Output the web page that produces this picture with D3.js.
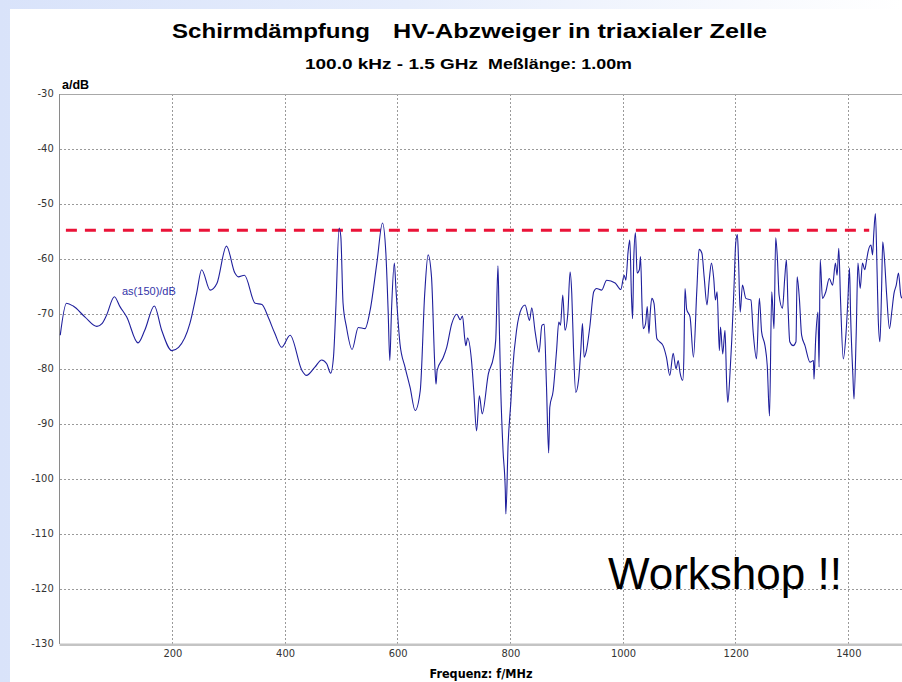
<!DOCTYPE html>
<html>
<head>
<meta charset="utf-8">
<script src="https://cdn.jsdelivr.net/npm/d3@7"></script>
<style>
  html, body { margin: 0; padding: 0; }
  body {
    width: 902px; height: 682px; overflow: hidden;
    background: linear-gradient(to right, #d9e3fa 0%, #e6edfc 45%, #ffffff 100%);
  }
  svg { display: block; }
  .narrow { font-family: "DejaVu Sans", sans-serif; font-stretch: condensed; }
</style>
</head>
<body>
<div id="chart"></div>
<script>
// Schirmdämpfung as(150) over frequency
var freq = [1, 12, 24, 45, 66, 75, 83, 97, 107, 119, 139, 151, 168, 181, 199, 211, 231, 243, 252, 267,
  279, 296, 311, 317, 328, 347, 359, 370, 382, 394, 409, 430, 438, 453, 465, 474, 481, 486, 490, 496,
  499, 503, 509, 519, 530, 542, 551, 563, 573, 579, 583, 586, 589, 594, 597, 604, 613, 622, 631, 640,
  648, 654, 660, 666, 668, 670, 681, 687, 696, 705, 711, 715, 719, 721, 724, 731, 735, 740, 745, 750,
  761, 770, 774, 778, 780, 783, 787, 791, 792, 796, 801, 804, 811, 820, 826, 834, 838, 844, 851, 856,
  860, 864, 868, 870, 876, 882, 886, 889, 893, 897, 902, 906, 909, 912, 916, 921, 925, 928, 931, 935,
  941, 948, 953, 962, 971, 986, 996, 1002, 1005, 1009, 1012, 1015, 1017, 1019, 1022, 1025, 1029, 1031, 1034, 1036,
  1040, 1043, 1046, 1048, 1051, 1055, 1060, 1064, 1071, 1077, 1083, 1089, 1094, 1098, 1101, 1106, 1108, 1110, 1113, 1119,
  1125, 1131, 1135, 1140, 1144, 1149, 1153, 1157, 1161, 1164, 1167, 1171, 1173, 1177, 1181, 1184, 1186, 1190, 1193, 1197,
  1200, 1203, 1205, 1208, 1212, 1218, 1227, 1231, 1237, 1242, 1246, 1252, 1256, 1260, 1264, 1268, 1271, 1274, 1277, 1283,
  1287, 1290, 1293, 1296, 1302, 1307, 1309, 1313, 1317, 1323, 1332, 1338, 1339, 1342, 1346, 1348, 1350, 1354, 1360, 1366,
  1372, 1377, 1380, 1383, 1386, 1391, 1396, 1399, 1402, 1404, 1408, 1410, 1414, 1417, 1421, 1425, 1429, 1432, 1435, 1440,
  1443, 1445, 1448, 1451, 1453, 1456, 1459, 1461, 1464, 1468, 1473, 1477, 1481, 1485, 1489, 1493, 1495];

var atten = [-73.8, -68.0, -68.5, -70.5, -72.2, -71.7, -70.2, -66.8, -68.6, -70.5, -75.2, -72.9, -68.5, -72.9, -76.6, -76.0, -71.7, -66.2, -61.9, -65.6,
  -64.4, -57.6, -62.5, -63.2, -62.9, -68.0, -68.2, -70.5, -73.5, -76.0, -73.8, -80.2, -81.1, -79.6, -78.3, -79.0, -80.7, -77.8, -69.3, -54.3,
  -55.8, -68.0, -72.3, -76.4, -72.4, -72.6, -69.3, -60.7, -53.4, -58.9, -69.3, -78.4, -69.3, -60.7, -65.6, -75.3, -79.6, -83.3, -87.5, -83.9,
  -66.2, -59.2, -63.2, -79.6, -82.7, -80.2, -77.8, -76.0, -71.7, -70.0, -71.0, -70.3, -74.4, -75.7, -74.3, -78.4, -83.9, -91.2, -84.8, -88.1,
  -80.8, -77.8, -74.7, -61.2, -70.5, -83.9, -94.8, -102.1, -106.3, -93.6, -85.7, -80.2, -72.9, -68.9, -68.3, -71.1, -68.8, -73.2, -76.9, -72.0,
  -71.8, -82.7, -95.2, -86.9, -83.9, -76.6, -71.4, -72.0, -66.5, -72.9, -69.9, -62.3, -66.2, -76.0, -84.2, -82.0, -76.6, -71.7, -77.8, -76.6,
  -72.3, -65.9, -65.3, -65.6, -63.8, -64.3, -65.5, -62.9, -63.8, -58.6, -56.5, -66.8, -70.8, -60.1, -55.2, -62.5, -61.9, -59.5, -69.3, -72.6,
  -71.7, -68.6, -73.5, -70.2, -67.1, -68.0, -74.4, -74.9, -75.7, -77.8, -81.1, -77.1, -79.9, -78.4, -80.5, -82.0, -77.8, -65.3, -69.1, -70.5,
  -77.8, -65.6, -58.2, -58.9, -63.2, -68.3, -63.8, -60.7, -63.5, -67.4, -65.9, -76.6, -72.3, -77.2, -72.9, -82.7, -86.0, -80.5, -74.7, -65.0,
  -57.1, -55.5, -60.1, -69.6, -64.7, -67.1, -67.4, -73.2, -78.1, -67.1, -73.2, -75.7, -79.3, -88.5, -65.9, -72.6, -56.1, -59.8, -66.5, -68.9,
  -63.5, -60.1, -68.9, -75.0, -75.7, -75.0, -63.2, -67.1, -73.8, -75.7, -78.7, -78.4, -81.8, -74.4, -69.6, -79.6, -60.1, -67.1, -65.9, -63.5,
  -64.7, -60.7, -62.9, -58.0, -67.1, -78.1, -73.2, -67.7, -61.6, -70.2, -81.1, -85.4, -73.2, -60.7, -65.3, -60.7, -61.9, -60.4, -58.6, -57.4,
  -59.2, -55.5, -51.7, -62.3, -70.8, -75.0, -65.3, -56.8, -59.8, -66.5, -72.6, -69.6, -66.2, -64.7, -62.5, -66.5, -67.1];

// limit line (red dashed)
var limitFreq = [11, 1437];
var limitValue = -54.7;

var xTicks = [200, 400, 600, 800, 1000, 1200, 1400];
var yTicks = [-130, -120, -110, -100, -90, -80, -70, -60, -50, -40, -30];

var width = 902, height = 682;
var plot = { left: 59.7, right: 904.7, top: 94.3, bottom: 644.3 };

var x = d3.scaleLinear().domain([0, 1500]).range([plot.left, plot.right]);
var y = d3.scaleLinear().domain([-130, -30]).range([plot.bottom, plot.top]);
var plain = function(d) { return String(d); };

var svg = d3.select("#chart").append("svg")
    .attr("width", width)
    .attr("height", height);

// white sheet
svg.append("rect")
    .attr("x", 10).attr("y", 9)
    .attr("width", width - 10).attr("height", height - 9)
    .style("fill", "#fff");

// Titles (the original font runs wide, so stretch to the measured widths)
var titleFont = "'Liberation Sans', Arial, sans-serif";
function title(str, x0, y0, len, size) {
  svg.append("text")
      .attr("x", x0).attr("y", y0)
      .attr("textLength", len).attr("lengthAdjust", "spacingAndGlyphs")
      .style("font-family", titleFont).style("font-weight", "bold").style("font-size", size)
      .text(str);
}
title("Schirmdämpfung", 172, 38, 198, "20.5px");
title("HV-Abzweiger in triaxialer Zelle", 393, 38, 374, "20.5px");
title("100.0 kHz - 1.5 GHz", 305, 69, 173, "15px");
title("Meßlänge: 1.00m", 488, 69, 144, "15px");

// Grid
svg.append("g")
    .selectAll("line")
    .data(xTicks)
    .enter().append("line")
    .attr("x1", function(d) { return x(d); })
    .attr("x2", function(d) { return x(d); })
    .attr("y1", plot.top).attr("y2", plot.bottom)
    .style("stroke", "#9a9a9a")
    .style("stroke-dasharray", "2,2")
    .attr("shape-rendering", "crispEdges");

svg.append("g")
    .selectAll("line")
    .data(yTicks.filter(function(d) { return d > -130 && d < -30; }))
    .enter().append("line")
    .attr("x1", plot.left).attr("x2", plot.right)
    .attr("y1", function(d) { return y(d); })
    .attr("y2", function(d) { return y(d); })
    .style("stroke", "#9a9a9a")
    .style("stroke-dasharray", "2,2")
    .attr("shape-rendering", "crispEdges");

// frame lines
svg.append("line")
    .attr("x1", plot.left).attr("x2", plot.right)
    .attr("y1", y(-30)).attr("y2", y(-30))
    .style("stroke", "#a8a8a8").attr("shape-rendering", "crispEdges");
svg.append("line")
    .attr("x1", plot.left).attr("x2", plot.left)
    .attr("y1", y(-30)).attr("y2", y(-130))
    .style("stroke", "#8a8a8a").attr("shape-rendering", "crispEdges");
svg.append("line")
    .attr("x1", plot.left).attr("x2", plot.right)
    .attr("y1", y(-130) + 0.5).attr("y2", y(-130) + 0.5)
    .style("stroke", "#c4c4c4").style("stroke-width", 2.5);

// Axes labels
var yAxis = svg.append("g")
    .attr("class", "narrow")
    .attr("transform", "translate(" + plot.left + ",0)")
    .call(d3.axisLeft(y).tickValues(yTicks).tickFormat(plain).tickSize(0).tickPadding(6));
yAxis.select(".domain").remove();
yAxis.selectAll("text")
    .attr("dy", "0.2em")
    .style("font-size", "11px")
    .style("fill", "#333");

var xAxis = svg.append("g")
    .attr("class", "narrow")
    .attr("transform", "translate(0," + plot.bottom + ")")
    .call(d3.axisBottom(x).tickValues(xTicks).tickFormat(plain).tickSize(0).tickPadding(5));
xAxis.select(".domain").remove();
xAxis.selectAll("text")
    .style("font-size", "11px")
    .style("fill", "#333");

svg.append("text")
    .attr("x", 62).attr("y", 89)
    .style("font-family", titleFont).style("font-weight", "bold").style("font-size", "12.5px")
    .text("a/dB");

svg.append("text")
    .attr("class", "narrow")
    .attr("x", 481).attr("y", 678)
    .attr("text-anchor", "middle")
    .style("font-weight", "bold").style("font-size", "12.5px")
    .text("Frequenz: f/MHz");

// Limit line
svg.append("line")
    .attr("x1", x(limitFreq[0])).attr("x2", x(limitFreq[1]))
    .attr("y1", y(limitValue)).attr("y2", y(limitValue))
    .style("stroke", "#ea1338")
    .style("stroke-width", 3)
    .style("stroke-dasharray", "11,8");

// Measured curve
var line = d3.line()
    .curve(d3.curveMonotoneX)
    .x(function(d, i) { return x(freq[i]); })
    .y(function(d) { return y(d); });

svg.append("path")
    .datum(atten)
    .attr("d", line)
    .style("fill", "none")
    .style("stroke", "#1f1f9c")
    .style("stroke-width", 1.1)
    .style("stroke-linejoin", "round");

svg.append("text")
    .attr("x", 122).attr("y", 295)
    .style("font-family", titleFont).style("font-size", "11px")
    .style("fill", "#3434a8")
    .text("as(150)/dB");

svg.append("text")
    .attr("x", 608).attr("y", 589)
    .style("font-family", titleFont).style("font-size", "44px")
    .style("fill", "#000")
    .text("Workshop !!");
</script>
</body>
</html>
